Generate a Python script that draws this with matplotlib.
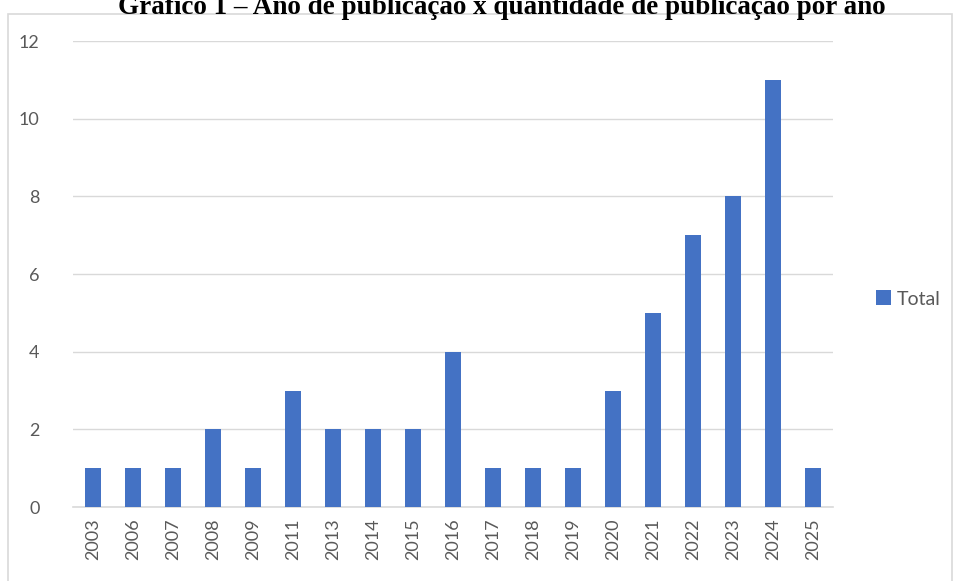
import matplotlib
matplotlib.use("Agg")
import matplotlib.pyplot as plt
from matplotlib.patches import Rectangle

years = ["2003", "2006", "2007", "2008", "2009", "2011", "2013", "2014", "2015", "2016",
         "2017", "2018", "2019", "2020", "2021", "2022", "2023", "2024", "2025"]
totals = [1, 1, 1, 2, 1, 3, 2, 2, 2, 4, 1, 1, 1, 3, 5, 7, 8, 11, 1]
title = "Gráfico 1 – Ano de publicação x quantidade de publicação por ano"

W, H = 955, 581
fig = plt.figure(figsize=(W / 100, H / 100), dpi=100)
fig.patch.set_facecolor("white")

# chart border
fig.patches.append(Rectangle((8 / W, -0.1), (952 - 8) / W, 1.1 - 14 / H,
                             transform=fig.transFigure, fill=False,
                             edgecolor="#D9D9D9", linewidth=1.2))

ax = fig.add_axes([73 / W, 1 - 507 / H, (833 - 73) / W, (507 - 41) / H])
x = list(range(len(years)))
ax.bar(x, totals, width=0.4, color="#4472C4", label="Total", zorder=3)
ax.set_xlim(-0.5, len(years) - 0.5)
ax.set_ylim(0, 12)
ax.set_yticks(range(0, 13, 2))
ax.set_xticks(x)
ax.set_xticklabels(years, rotation=90)
ax.grid(axis="y", color="#D9D9D9", linewidth=1, zorder=0)
for s in ["top", "right", "left"]:
    ax.spines[s].set_visible(False)
ax.spines["bottom"].set_color("#D9D9D9")
ax.spines["bottom"].set_linewidth(1.2)
ax.tick_params(axis="both", length=0, colors="#595959", labelsize=13)
ax.tick_params(axis="y", pad=24)
ax.tick_params(axis="x", pad=8)
for lab in ax.get_xticklabels() + ax.get_yticklabels():
    lab.set_fontfamily("Lato")

leg = ax.legend(loc="center left", bbox_to_anchor=(858 / W, 1 - 299 / H),
                bbox_transform=fig.transFigure, frameon=False,
                handlelength=0.8, handleheight=0.8, handletextpad=0.3,
                prop={"family": "Lato", "size": 14})
for t in leg.get_texts():
    t.set_color("#595959")

fig.text(0.525, 1 - 14 / H, title, ha="center", va="baseline",
         fontfamily="Liberation Serif", fontweight="bold", fontsize=19.5)

fig.savefig("out.png", dpi=100, facecolor="white")
